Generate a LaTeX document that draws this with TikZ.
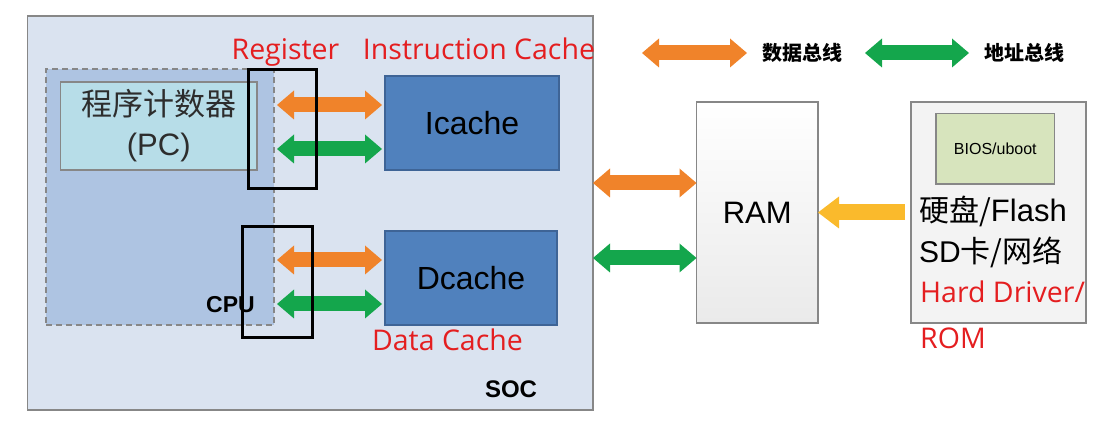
\documentclass[tikz,border=0pt]{standalone}
\usepackage{fontspec}
\setmainfont{Liberation Sans}
\newfontfamily\cjk{Noto Sans CJK SC}
\newfontfamily\redfont{Open Sans}
\usetikzlibrary{arrows.meta}

\definecolor{socfill}{RGB}{218,227,240}
\definecolor{cpufill}{RGB}{174,196,226}
\definecolor{pcfill}{RGB}{183,221,232}
\definecolor{cachefill}{RGB}{80,129,189}
\definecolor{cacheline}{RGB}{62,100,150}
\definecolor{ramgray}{RGB}{234,234,234}
\definecolor{storefill}{RGB}{243,243,243}
\definecolor{biosfill}{RGB}{215,228,189}
\definecolor{boxgray}{RGB}{135,135,135}
\definecolor{busorange}{RGB}{240,131,42}
\definecolor{busgreen}{RGB}{20,166,76}
\definecolor{busyellow}{RGB}{250,186,44}
\definecolor{labelred}{RGB}{228,30,32}
\definecolor{darktext}{RGB}{45,45,45}

\tikzset{
  box/.style={draw=boxgray, line width=1.2pt, inner sep=0pt, outer sep=0pt, anchor=north west},
  bus/.style={line width=15pt, {Triangle[length=17pt,width=29pt,line width=0pt]}-{Triangle[length=17pt,width=29pt,line width=0pt]}},
  obus/.style={bus, draw=busorange},
  gbus/.style={bus, draw=busgreen},
  ybus/.style={line width=16pt, draw=busyellow, -{Triangle[length=21pt,width=32pt,line width=0pt]}},
  regbox/.style={draw=black, line width=3pt, inner sep=0pt, outer sep=0pt, anchor=north west},
  redlabel/.style={text=labelred, anchor=base, inner sep=0pt, font=\redfont\fontsize{28.5}{32}\selectfont},
}

\begin{document}
\begin{tikzpicture}[x=1pt,y=-1pt]
\useasboundingbox (0,0) rectangle (1109,430);
\pgfmathsetmacro{\up}{18}
\pgfmathsetmacro{\dn}{-26}
% SOC and CPU
\node[box, fill=socfill, minimum width=565.5pt, minimum height=394pt] (soc) at (27.5,16) {};
\node[box, fill=cpufill, dash pattern=on 6pt off 4pt, minimum width=228pt, minimum height=256pt] (cpu) at (46,69) {};
\node[box, fill=pcfill, minimum width=196.5pt, minimum height=88pt] (pc) at (60.5,82) {};
\node[align=center, text=darktext, font=\fontsize{31}{40}\selectfont] (pctxt) at (pc.center) {{\cjk 程序计数器}\\(PC)};
\node[box, fill=cachefill, draw=cacheline, minimum width=174pt, minimum height=94pt, font=\fontsize{32}{36}\selectfont] (icache) at (385,76) {Icache};
\node[box, fill=cachefill, draw=cacheline, minimum width=172pt, minimum height=94pt, font=\fontsize{32}{36}\selectfont] (dcache) at (385,231) {Dcache};
% memory
\node[box, top color=white, bottom color=ramgray, minimum width=121.5pt, minimum height=221pt, font=\fontsize{31}{36}\selectfont] (ram) at (696.5,102) {RAM};
\node[box, fill=storefill, minimum width=175pt, minimum height=221pt] (store) at (911,102) {};
\node[box, fill=biosfill, minimum width=118.6pt, minimum height=70.4pt, font=\fontsize{16}{18}\selectfont] (bios) at (936,113.6) {BIOS/uboot};
\node[anchor=base west, inner sep=0pt, font=\fontsize{31}{34}\selectfont] (st1) at (919,222) {{\cjk\fontsize{30}{34}\selectfont 硬盘/}Flash};
\node[anchor=base west, inner sep=0pt, font=\fontsize{30}{34}\selectfont] (st2) at (919,263) {SD{\cjk 卡/网络}};
\node[redlabel, anchor=base west] (st3) at (920,303) {Hard Driver/};
\node[redlabel, anchor=base west] (st4) at (920,349) {ROM};

% buses
\coordinate (io) at ([yshift=\up pt]icache.west);
\coordinate (ig) at ([yshift=\dn pt]icache.west);
\coordinate (do) at ([yshift=\up pt]dcache.west);
\coordinate (dg) at ([yshift=\dn pt]dcache.west);
\draw[obus, shorten <=3pt, shorten >=3pt] (io -| cpu.east) -- (io);
\draw[gbus, shorten <=3pt, shorten >=3pt] (ig -| cpu.east) -- (ig);
\draw[obus, shorten <=3pt, shorten >=3pt] (do -| cpu.east) -- (do);
\draw[gbus, shorten <=3pt, shorten >=3pt] (dg -| cpu.east) -- (dg);
\coordinate (ro) at ([yshift=29.5pt]ram.west);
\coordinate (rg) at ([yshift=-45.5pt]ram.west);
\draw[obus] (ro -| soc.east) -- (ro);
\draw[gbus] (rg -| soc.east) -- (rg);
\draw[ybus, shorten <=6pt] (store.west) -- (ram.east);

% legend
\coordinate (lo1) at (642,53);
\coordinate (lo2) at (747,53);
\coordinate (lg1) at (865,53);
\coordinate (lg2) at (969,53);
\draw[obus] (lo1) -- (lo2);
\draw[gbus] (lg1) -- (lg2);
\node[anchor=west, inner sep=0pt, font=\cjk\bfseries\fontsize{20}{24}\selectfont] (ldata) at (762,53) {数据总线};
\node[anchor=west, inner sep=0pt, font=\cjk\bfseries\fontsize{20}{24}\selectfont] (laddr) at (984,53) {地址总线};

% registers
\node[regbox, minimum width=68pt, minimum height=119pt] (ireg) at (248,70) {};
\node[regbox, minimum width=70pt, minimum height=111pt] (dreg) at (242,227) {};

% labels
\node[redlabel] (lreg) at (285.5,60) {Register};
\node[redlabel] (linstr) at (479,60) {Instruction Cache};
\node[redlabel] (ldc) at (447.5,351) {Data Cache};
\node[anchor=base, inner sep=0pt, font=\bfseries\fontsize{23}{26}\selectfont] (lcpu) at (230.5,312.5) {CPU};
\node[anchor=base, inner sep=0pt, font=\bfseries\fontsize{24}{26}\selectfont] (lsoc) at (511,397.5) {SOC};
\end{tikzpicture}
\end{document}
